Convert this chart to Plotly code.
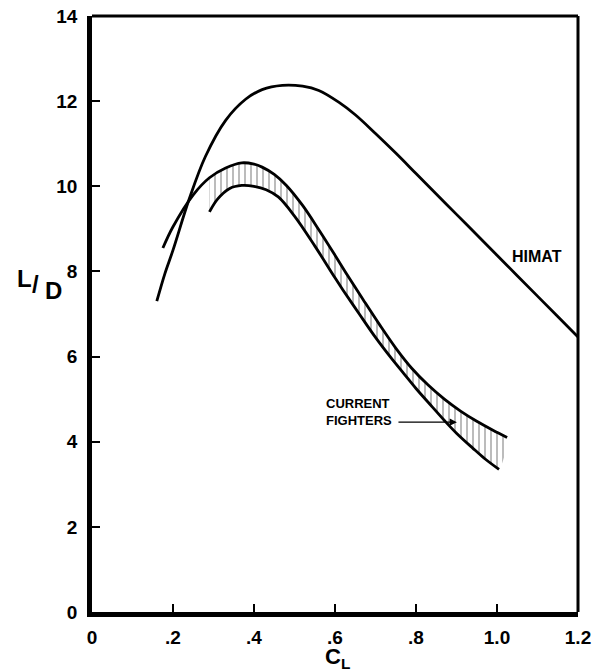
import plotly.graph_objects as go

# HIMAT L/D curve
himat_cl = [0.16, 0.18, 0.20, 0.24, 0.28, 0.33, 0.38, 0.42, 0.47, 0.52, 0.56, 0.61,
            0.65, 0.70, 0.75, 0.80, 0.85, 0.90, 0.95, 1.00, 1.05, 1.10, 1.15, 1.20]
himat_ld = [7.3, 7.95, 8.5, 9.7, 10.7, 11.55, 12.05, 12.27, 12.37, 12.35, 12.25, 11.97,
            11.68, 11.24, 10.78, 10.3, 9.82, 9.34, 8.86, 8.38, 7.9, 7.42, 6.94, 6.46]

# Current fighters band: upper bound
cf_up_cl = [0.175, 0.20, 0.25, 0.29, 0.33, 0.37, 0.40, 0.42, 0.45, 0.48, 0.52, 0.56, 0.60,
            0.63, 0.67, 0.71, 0.75, 0.79, 0.83, 0.87, 0.91, 0.95, 0.99, 1.025]
cf_up_ld = [8.55, 9.05, 9.8, 10.2, 10.43, 10.55, 10.52, 10.45, 10.28, 10.02, 9.55, 8.98, 8.38,
            7.92, 7.33, 6.75, 6.2, 5.72, 5.33, 5.0, 4.72, 4.48, 4.27, 4.1]

# Current fighters band: lower bound
cf_lo_cl = [0.29, 0.31, 0.34, 0.37, 0.40, 0.43, 0.46, 0.50, 0.55, 0.60, 0.62, 0.66,
            0.70, 0.74, 0.77, 0.80, 0.84, 0.87, 0.90, 0.94, 0.97, 1.005]
cf_lo_ld = [9.4, 9.7, 9.95, 10.02, 10.0, 9.92, 9.75, 9.3, 8.6, 7.85, 7.56, 7.0,
            6.45, 5.95, 5.6, 5.25, 4.82, 4.5, 4.2, 3.85, 3.6, 3.35]

x_ticks = [0, 0.2, 0.4, 0.6, 0.8, 1.0, 1.2]
x_tick_text = ["0", ".2", ".4", ".6", ".8", "1.0", "1.2"]
y_ticks = [0, 2, 4, 6, 8, 10, 12, 14]

FONT = "Liberation Sans"

fig = go.Figure()

# hatched band (upper from start of lower curve, then lower reversed)
band_x = [x for x in cf_up_cl if x >= cf_lo_cl[0]] + cf_lo_cl[::-1]
band_y = [y for x, y in zip(cf_up_cl, cf_up_ld) if x >= cf_lo_cl[0]] + cf_lo_ld[::-1]
fig.add_trace(go.Scatter(
    x=band_x, y=band_y, mode="lines", fill="toself",
    line=dict(width=0, color="rgba(0,0,0,0)", shape="spline", smoothing=0.6),
    fillcolor="rgba(0,0,0,0)",
    fillpattern=dict(shape="|", size=6, solidity=0.22, fgcolor="#333", bgcolor="white"),
    hoverinfo="skip", showlegend=False))

for xs, ys in [(himat_cl, himat_ld), (cf_up_cl, cf_up_ld), (cf_lo_cl, cf_lo_ld)]:
    fig.add_trace(go.Scatter(
        x=xs, y=ys, mode="lines",
        line=dict(color="black", width=2.8, shape="spline", smoothing=1.0),
        hoverinfo="skip", showlegend=False))

tickfont = dict(family=FONT, size=19, color="black", weight="bold")
fig.update_xaxes(range=[0, 1.2], tickvals=x_ticks, ticktext=x_tick_text,
                 ticks="inside", ticklen=8, tickwidth=1.5, tickcolor="black",
                 showline=True, linewidth=4.5, linecolor="black",
                 showgrid=False, zeroline=False, tickfont=tickfont,
                 ticklabelstandoff=4, automargin=False)
fig.update_yaxes(range=[0, 14], tickvals=y_ticks,
                 ticks="inside", ticklen=8, tickwidth=1.5, tickcolor="black",
                 showline=True, linewidth=4.5, linecolor="black",
                 showgrid=False, zeroline=False, tickfont=tickfont,
                 ticklabelstandoff=6, automargin=False)

# top and right frame
fig.add_shape(type="line", xref="paper", yref="paper", x0=0, x1=1, y0=1, y1=1,
              line=dict(color="black", width=3))
fig.add_shape(type="line", xref="paper", yref="paper", x0=1, x1=1, y0=0, y1=1,
              line=dict(color="black", width=3))

bold = dict(family=FONT, color="black", weight="bold")
fig.add_annotation(x=1.099, y=8.34, text="HIMAT", showarrow=False,
                   font=dict(size=16, **bold))
fig.add_annotation(x=0.573, y=4.70, text="CURRENT<br>FIGHTERS", showarrow=False,
                   xanchor="left", align="left", font=dict(size=13, **bold))
fig.add_annotation(x=0.901, y=4.46, ax=0.753, ay=4.46, axref="x", ayref="y",
                   text="", showarrow=True, arrowhead=2, arrowsize=1.2,
                   arrowwidth=1.2, arrowcolor="black")

# axis titles
fig.add_annotation(xref="paper", yref="paper", x=-0.159, y=0.560, text="L",
                   showarrow=False, font=dict(size=24, **bold))
fig.add_annotation(xref="paper", yref="paper", x=-0.128, y=0.549, text="/",
                   showarrow=False, font=dict(size=24, **bold))
fig.add_annotation(xref="paper", yref="paper", x=-0.100, y=0.540, text="D",
                   showarrow=False, font=dict(size=24, **bold))
fig.add_annotation(xref="paper", yref="paper", x=0.505, y=-0.077, yanchor="middle",
                   text="C<sub>L</sub>", showarrow=False, font=dict(size=22, **bold))

fig.update_layout(width=592, height=672, margin=dict(l=92, r=14, t=16, b=60),
                  paper_bgcolor="white", plot_bgcolor="white")

# remove the default 8px page margin so the figure sits at the window origin
fig.write_html("out.html", config={"displayModeBar": False},
               post_script="document.body.style.margin='0';document.body.style.overflow='hidden';")
